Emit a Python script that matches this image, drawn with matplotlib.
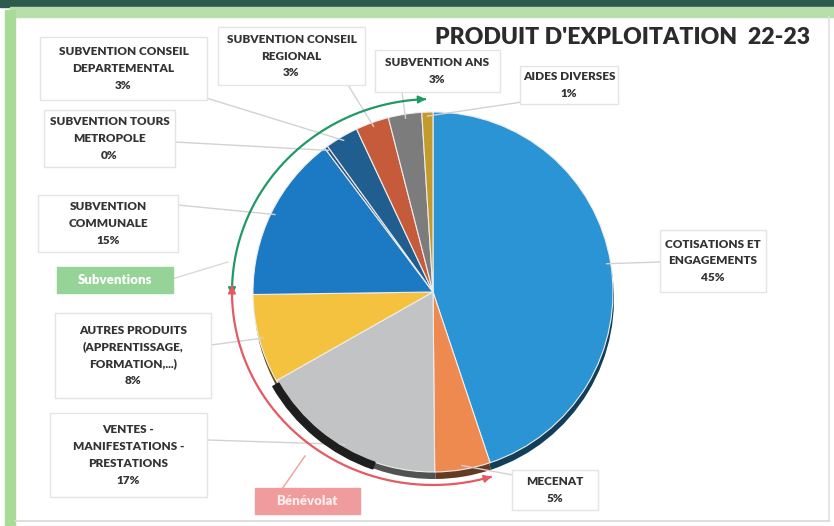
import numpy as np
import matplotlib
matplotlib.use("Agg")
import matplotlib.pyplot as plt
from matplotlib.patches import Rectangle, Wedge
import matplotlib.colors as mcolors

# ---------------- data ----------------
categories = [
    "COTISATIONS ET\nENGAGEMENTS",
    "MECENAT",
    "VENTES -\nMANIFESTATIONS -\nPRESTATIONS",
    "AUTRES PRODUITS\n(APPRENTISSAGE,\nFORMATION,...)",
    "SUBVENTION\nCOMMUNALE",
    "SUBVENTION TOURS\nMETROPOLE",
    "SUBVENTION CONSEIL\nDEPARTEMENTAL",
    "SUBVENTION CONSEIL\nREGIONAL",
    "SUBVENTION ANS",
    "AIDES DIVERSES",
]
values = [45, 5, 17, 8, 15, 0.3, 3, 3, 3, 1]
title = "PRODUIT D'EXPLOITATION  22-23"
group_labels = ["Subventions", "Bénévolat"]

# ---------------- styles / layout ----------------
colors = ["#2A94D4", "#EE8A50", "#C2C3C4", "#F5C240", "#1C79C3",
          "#2B4F7E", "#1F5E8F", "#C65B3B", "#7C7C7C", "#C39A2C"]
W, H = 834, 526
def Y(y):
    return H - y

# label boxes: (x0, y0, x1, y1) in image coords
boxes = [
    (660, 230, 766, 292),
    (512, 470, 598, 510),
    (50, 413, 207, 497),
    (55, 313, 211, 398),
    (38, 195, 178, 252),
    (44, 110, 175, 167),
    (40, 37, 207, 100),
    (218, 27, 365, 85),
    (375, 50, 500, 92),
    (520, 66, 618, 104),
]
# leader anchor on box (image coords)
anchors = [
    (660, 262), (518, 476), (207, 440), (211, 345), (178, 205),
    (175, 142), (203, 97), (348, 85), (402, 92), (522, 102),
]

fig = plt.figure(figsize=(W / 100, H / 100), dpi=100)
ax = fig.add_axes([0, 0, 1, 1])
ax.set_xlim(0, W)
ax.set_ylim(0, H)
ax.axis("off")

FONT = ["Lato", "DejaVu Sans"]
TXT = "#333333"

# ---------------- frame ----------------
ax.add_patch(Rectangle((0, Y(7)), W, 7, color="#2C5A4D", zorder=0))
ax.add_patch(Rectangle((10, Y(17)), W - 10, 10, color="#B8DEAC", zorder=0))
ax.add_patch(Rectangle((5, 0), 10, Y(10), color="#A8DA98", zorder=0))
ax.plot([829, 829], [Y(17), Y(521)], color="#E2E2E2", lw=1.2, zorder=0)
ax.plot([15, 829], [Y(521), Y(521)], color="#D8D8D8", lw=1.2, zorder=0)

# ---------------- pie ----------------
cx, cy, R = 433, Y(292), 180
dark = [tuple(np.array(mcolors.to_rgb(c)) * 0.42) for c in colors]
ax.pie(values, colors=dark, startangle=90, counterclock=False,
       center=(cx + 1, cy - 7), radius=R, frame=True,
       wedgeprops=dict(linewidth=0))
wedges, _ = ax.pie(values, colors=colors, startangle=90, counterclock=False,
                   center=(cx, cy), radius=R, frame=True,
                   wedgeprops=dict(linewidth=0.8, edgecolor="#EDEDED"))
ax.set_xlim(0, W)
ax.set_ylim(0, H)
ax.axis("off")

# scan artefact dark band on the lower-left rim
ax.add_patch(Wedge((cx, cy - 2), R + 5, 90 - 240, 90 - 199, width=7,
                   color="#1E1E1E", zorder=3))

total = sum(values)
pcts = [f"{round(v / total * 100)}%" for v in values]

# ---------------- labels ----------------
for w, cat, pct, box, anc in zip(wedges, categories, pcts, boxes, anchors):
    mid = np.deg2rad((w.theta1 + w.theta2) / 2)
    ex, ey = cx + (R - 4) * np.cos(mid), cy + (R - 4) * np.sin(mid)
    ax.plot([anc[0], ex], [Y(anc[1]), ey], color="#D2D2D2", lw=1.0, zorder=2)
    x0, y0, x1, y1 = box
    ax.add_patch(Rectangle((x0, Y(y1)), x1 - x0, y1 - y0, facecolor="white",
                           edgecolor="#E4E4E4", lw=1.0, zorder=4))
    ax.text((x0 + x1) / 2, Y((y0 + y1) / 2), f"{cat}\n{pct}", ha="center",
            va="center", fontsize=8.5, fontweight="heavy", color=TXT,
            family=FONT, linespacing=1.65, zorder=5)

ax.text(810, Y(38), title, ha="right", va="center", fontsize=16.6,
        fontweight="heavy", color="#2B2B2B", family=FONT, zorder=5)

# ---------------- arcs with arrows ----------------
acx, acy, rx, ry = 433, Y(292), 201, 193
def arc_pts(a0, a1, n=200):
    a = np.deg2rad(90 - np.linspace(a0, a1, n))
    return acx + rx * np.cos(a), acy + ry * np.sin(a)

def double_arrow_arc(a0, a1, col):
    xs, ys = arc_pts(a0, a1)
    ax.plot(xs, ys, color=col, lw=1.6, zorder=3, solid_capstyle="butt")
    for (xa, ya), (xb, yb) in [((xs[3], ys[3]), (xs[0], ys[0])),
                               ((xs[-4], ys[-4]), (xs[-1], ys[-1]))]:
        ax.annotate("", xy=(xb, yb), xytext=(xa, ya),
                    arrowprops=dict(arrowstyle="-|>", color=col, lw=1.4,
                                    mutation_scale=11, shrinkA=0, shrinkB=0),
                    zorder=3)

GREEN, RED = "#1F9A66", "#E55A62"
double_arrow_arc(269, 358, GREEN)
double_arrow_arc(272, 163, RED)

# group label boxes
ax.plot([172, 228], [Y(279), Y(262)], color="#DADADA", lw=1, zorder=2)
ax.add_patch(Rectangle((57, Y(293)), 116, 26, color="#95D396", zorder=4))
ax.text(115, Y(280), group_labels[0], ha="center", va="center", fontsize=9.5,
        fontweight="heavy", color="white", family=FONT, zorder=5)
ax.plot([282, 305], [Y(489), Y(456)], color="#E9A0A0", lw=1, zorder=2)
ax.add_patch(Rectangle((255, Y(514)), 105, 26, color="#F19C9C", zorder=4))
ax.text(307, Y(501), group_labels[1], ha="center", va="center", fontsize=9.5,
        fontweight="heavy", color="#FDEDED", family=FONT, zorder=5)

fig.savefig("out.png", dpi=100)
